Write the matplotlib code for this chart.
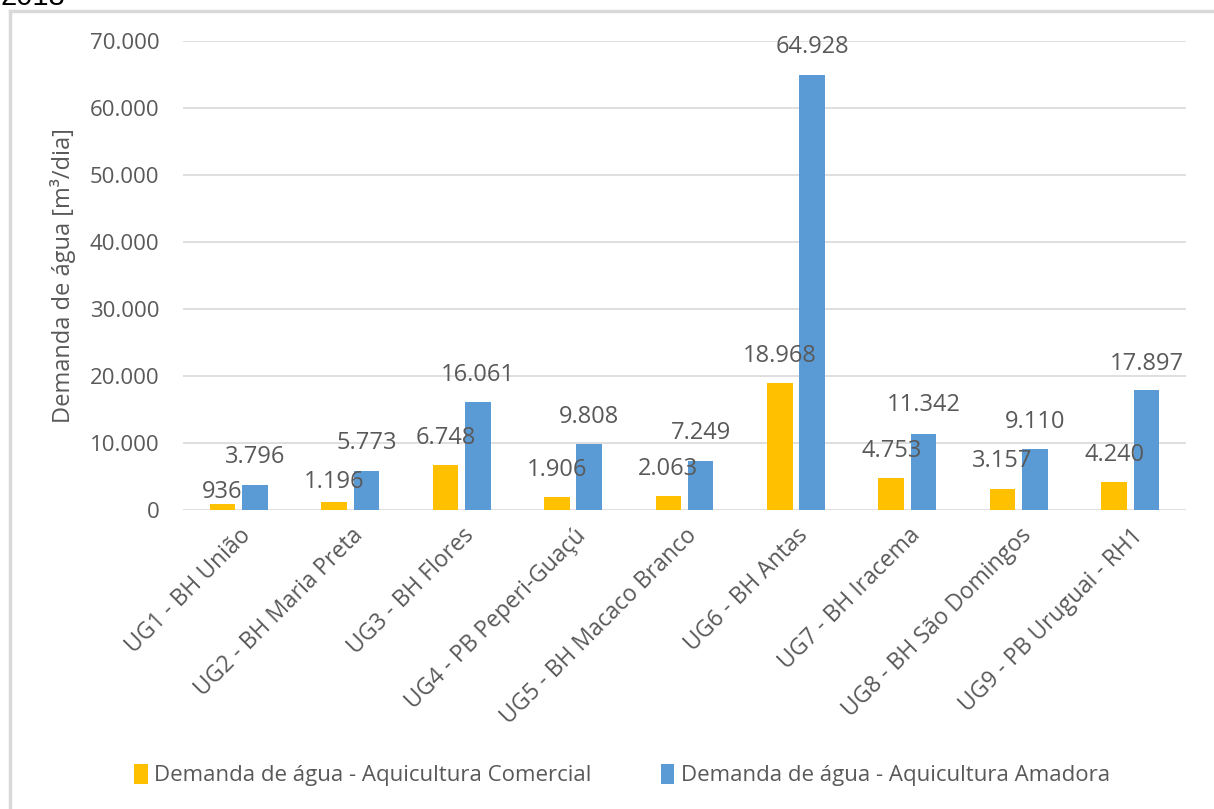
import matplotlib
matplotlib.use("Agg")
import matplotlib.pyplot as plt
import matplotlib.transforms as mtransforms
import numpy as np
from matplotlib.lines import Line2D
from matplotlib.patches import Patch

plt.rcParams['font.family'] = ['Open Sans', 'DejaVu Sans']

categories = [
    "UG1 - BH União",
    "UG2 - BH Maria Preta",
    "UG3 - BH Flores",
    "UG4 - PB Peperi-Guaçú",
    "UG5 - BH Macaco Branco",
    "UG6 - BH Antas",
    "UG7 - BH Iracema",
    "UG8 - BH São Domingos",
    "UG9 - PB Uruguai - RH1",
]
comercial = [936, 1196, 6748, 1906, 2063, 18968, 4753, 3157, 4240]
amadora = [3796, 5773, 16061, 9808, 7249, 64928, 11342, 9110, 17897]
series_names = [
    "Demanda de água - Aquicultura Comercial",
    "Demanda de água - Aquicultura Amadora",
]
y_ticks = [0, 10000, 20000, 30000, 40000, 50000, 60000, 70000]

# label lift above each bar top, in pixels
lift_comercial = [12, 20, 27, 27, 27, 27, 27, 28, 27]
lift_amadora = [28, 28, 27, 27, 28, 28, 29, 27, 26]

YELLOW = "#FFC000"
BLUE = "#5B9BD5"
TXT = "#595959"
GRID = "#D9D9D9"

W, H, DPI = 1214, 809, 100
fig = plt.figure(figsize=(W / DPI, H / DPI), dpi=DPI)
fig.patch.set_facecolor("white")


def fmt(v):
    return f"{v:,.0f}".replace(",", ".")


ax_l, ax_r, ax_b, ax_t = 183, 1186, 510, 41
ax = fig.add_axes([ax_l / W, 1 - ax_b / H, (ax_r - ax_l) / W, (ax_b - ax_t) / H])
x = np.arange(len(categories))
bw = 0.23
off = 0.145
ax.bar(x - off, comercial, bw, color=YELLOW, zorder=3)
ax.bar(x + off, amadora, bw, color=BLUE, zorder=3)

px2pt = 72 / DPI
for xi, v, l in zip(x, comercial, lift_comercial):
    ax.annotate(fmt(v), (xi - off, v), xytext=(0, l * px2pt), textcoords="offset points",
                ha="center", va="center", fontsize=17, color=TXT, zorder=4)
for xi, v, l in zip(x, amadora, lift_amadora):
    ax.annotate(fmt(v), (xi + off, v), xytext=(0, l * px2pt), textcoords="offset points",
                ha="center", va="center", fontsize=17, color=TXT, zorder=4)

ax.set_xlim(-0.5, len(categories) - 0.5)
ax.set_ylim(0, 70000)
ax.set_yticks(y_ticks)
ax.set_yticklabels([fmt(t) for t in y_ticks])
ax.yaxis.grid(True, color=GRID, linewidth=1.2, zorder=0)
ax.set_axisbelow(True)
for s in ax.spines.values():
    s.set_visible(False)
ax.tick_params(axis="y", length=0, pad=17, labelsize=16, labelcolor=TXT)
ax.tick_params(axis="x", length=0, pad=16, labelsize=16.5, labelcolor=TXT)
ax.set_xticks(x)
ax.set_xticklabels(categories, rotation=45, ha="right", rotation_mode="anchor", va="center")
shift = mtransforms.ScaledTranslation(9 / DPI, 0, fig.dpi_scale_trans)
for lbl in ax.get_xticklabels():
    lbl.set_transform(lbl.get_transform() + shift)

ax.set_ylabel("Demanda de água [m³/dia]", fontsize=17, color=TXT, va="center")
ax.yaxis.set_label_coords((63 - ax_l) / (ax_r - ax_l), 0.5)

handles = [Patch(facecolor=YELLOW), Patch(facecolor=BLUE)]
fig.legend(handles, series_names, loc="center", bbox_to_anchor=(622 / W, 1 - 775 / H),
           ncol=2, frameon=False, fontsize=16, labelcolor=TXT,
           handlelength=0.6, handleheight=1.0, handletextpad=0.3, columnspacing=3.1)

# chart frame and the clipped caption above it
fig.add_artist(Line2D([9.5 / W, 1.0], [1 - 10.5 / H] * 2, color=GRID, linewidth=2.5,
                      transform=fig.transFigure))
fig.add_artist(Line2D([9.5 / W] * 2, [0.0, 1 - 10.5 / H], color=GRID, linewidth=2.5,
                      transform=fig.transFigure))
fig.text(0.0, 1 - 5 / H, "2018", fontsize=21, color="black", va="baseline", ha="left",
         family=["Liberation Sans", "DejaVu Sans"])

fig.savefig("out.png", dpi=DPI)
